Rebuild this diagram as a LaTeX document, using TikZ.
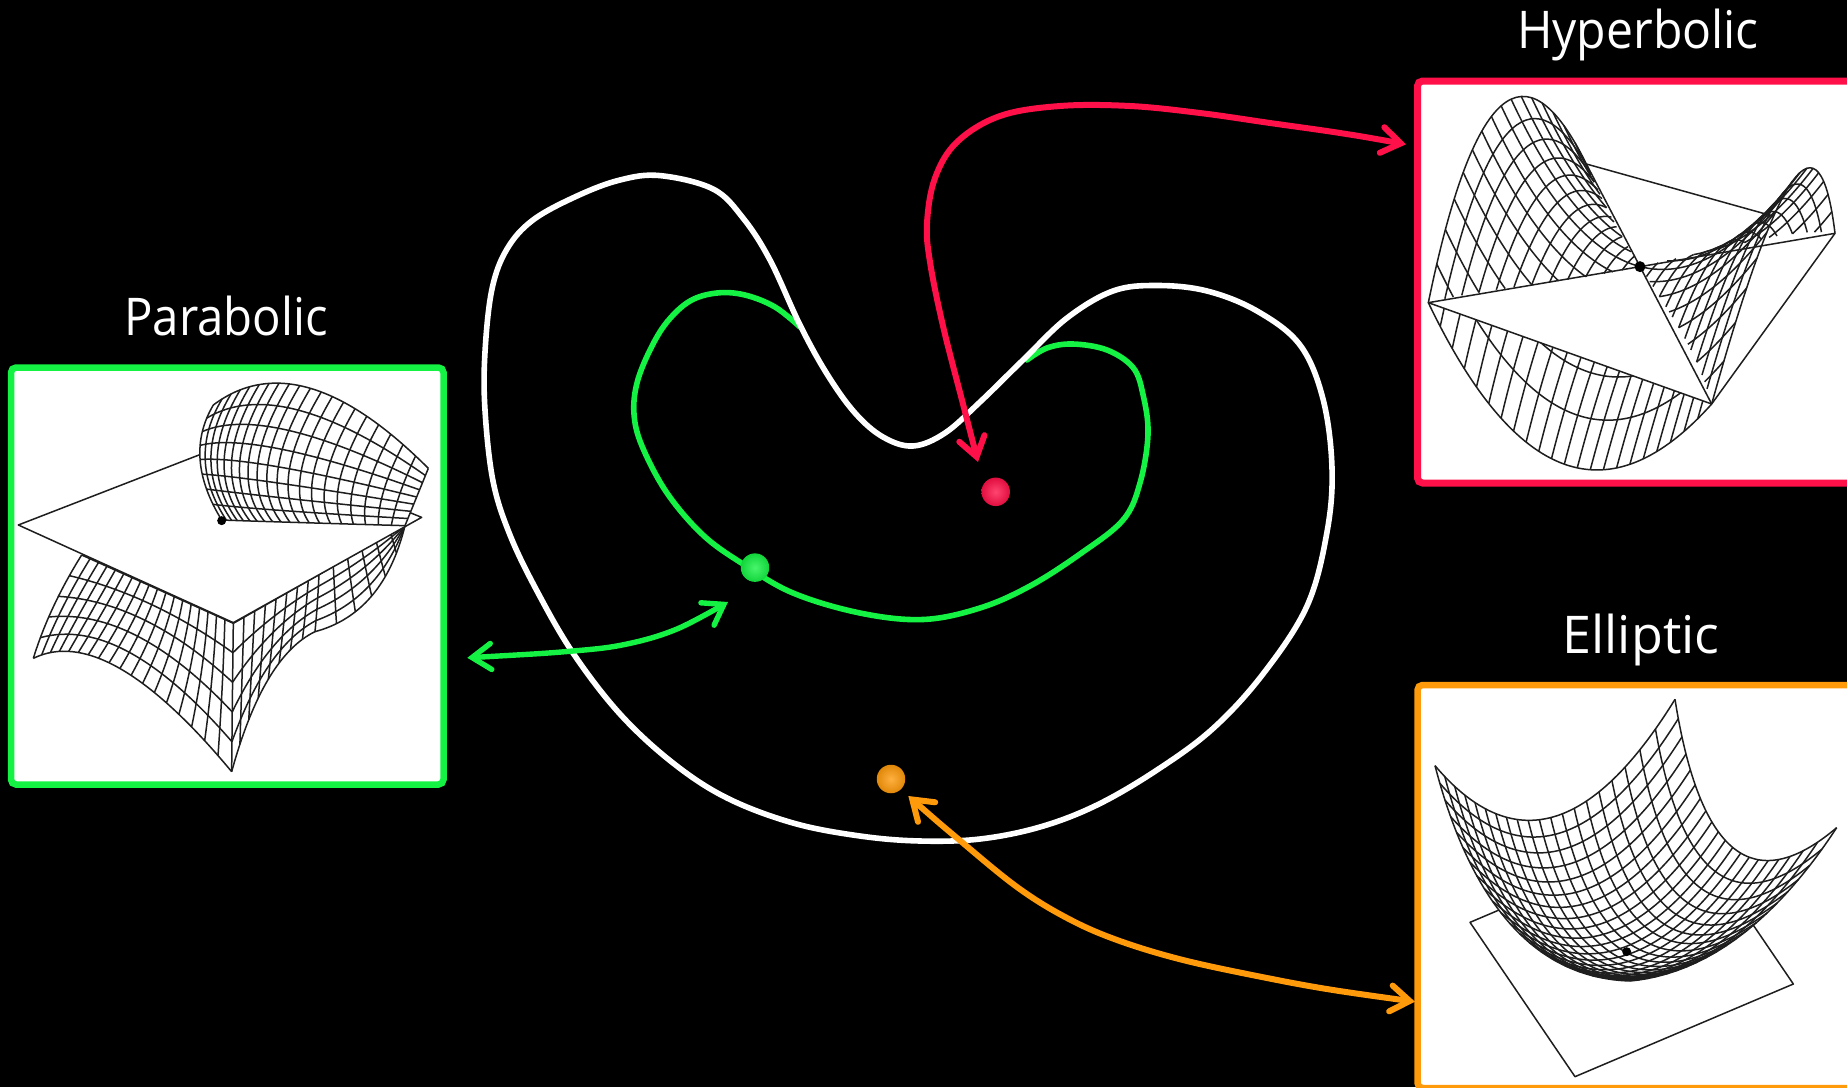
\documentclass[tikz,border=0pt]{standalone}
\usepackage{fontspec}
\setmainfont{Open Sans}
\newfontfamily\titleA[FakeStretch=0.91]{Open Sans}
\newfontfamily\titleB[FakeStretch=0.925]{Open Sans}
\usetikzlibrary{arrows.meta,calc}
\definecolor{cgreen}{HTML}{14F243}
\definecolor{cred}{HTML}{FF1048}
\definecolor{corange}{HTML}{FF9A0A}
\definecolor{cmesh}{HTML}{1E1E1E}
\tikzset{
 meshline/.style={draw=cmesh,line width=1.5pt},
 planeline/.style={draw=cmesh,line width=1.5pt,line join=round},
 framebox/.style={rectangle,fill=white,line width=6.5pt,rounded corners=5pt,inner sep=0pt,outer sep=0pt},
 curveline/.style={line width=5.6pt,line cap=round},
 linkarrow/.style={line width=#1,line cap=round,
   {Straight Barb[length=19pt,width=26pt,line width=#1,line cap=round,line join=miter]}-{Straight Barb[length=19pt,width=26pt,line width=#1,line cap=round,line join=miter]}},
 titlelabel/.style={text=white,anchor=base,inner sep=0pt},
 meshdot/.style={circle,fill=black,inner sep=0pt,minimum size=6.5pt},
 ballnode/.style={circle,inner sep=0pt,minimum size=28.5pt,inner color=#1!78!white,outer color=#1!88!black},
}
\def\setrow#1(#2,#3)(#4,#5)(#6,#7){%
 \expandafter\def\csname x#1a\endcsname{#2}\expandafter\def\csname y#1a\endcsname{#3}%
 \expandafter\def\csname x#1b\endcsname{#4}\expandafter\def\csname y#1b\endcsname{#5}%
 \expandafter\def\csname x#1c\endcsname{#6}\expandafter\def\csname y#1c\endcsname{#7}}
\newcommand\qb[5]{\pgfmathsetmacro#1{(1-(#5))*(1-(#5))*(#2)+2*(#5)*(1-(#5))*(#3)+(#5)*(#5)*(#4)}}
\newcommand\quadpiece[2]{%
 \qb\qax\pAx\pBx\pCx{#1}\qb\qay\pAy\pBy\pCy{#1}%
 \qb\qcx\pAx\pBx\pCx{#2}\qb\qcy\pAy\pBy\pCy{#2}%
 \pgfmathsetmacro\qbx{(1-(#1))*(1-(#2))*\pAx+((1-(#1))*(#2)+(#1)*(1-(#2)))*\pBx+(#1)*(#2)*\pCx}%
 \pgfmathsetmacro\qby{(1-(#1))*(1-(#2))*\pAy+((1-(#1))*(#2)+(#1)*(1-(#2)))*\pBy+(#1)*(#2)*\pCy}%
 \pgfmathsetmacro\cax{\qax+0.6667*(\qbx-\qax)}\pgfmathsetmacro\cay{\qay+0.6667*(\qby-\qay)}%
 \pgfmathsetmacro\ccx{\qcx+0.6667*(\qbx-\qcx)}\pgfmathsetmacro\ccy{\qcy+0.6667*(\qby-\qcy)}%
 \draw[meshline] (\qax,\qay) .. controls (\cax,\cay) and (\ccx,\ccy) .. (\qcx,\qcy);}
\newcommand\isoU[3]{% s fixed, t from #2 to #3
 \qb\pAx\xaa\xab\xac{#1}\qb\pAy\yaa\yab\yac{#1}%
 \qb\pBx\xba\xbb\xbc{#1}\qb\pBy\yba\ybb\ybc{#1}%
 \qb\pCx\xca\xcb\xcc{#1}\qb\pCy\yca\ycb\ycc{#1}%
 \quadpiece{#2}{#3}}
\newcommand\isoV[3]{% t fixed, s from #2 to #3
 \qb\pAx\xaa\xba\xca{#1}\qb\pAy\yaa\yba\yca{#1}%
 \qb\pBx\xab\xbb\xcb{#1}\qb\pBy\yab\ybb\ycb{#1}%
 \qb\pCx\xac\xbc\xcc{#1}\qb\pCy\yac\ybc\ycc{#1}%
 \quadpiece{#2}{#3}}
\begin{document}
\begin{tikzpicture}[x=1pt,y=-1pt]
\useasboundingbox (0,0) rectangle (1847,1087);
\clip (0,0) rectangle (1847,1087);
\fill[black] (0,0) rectangle (1847,1087);

% ---------- frames and titles
\node[framebox,draw=cgreen,minimum width=432.5pt,minimum height=417pt] (parabox) at (227.25,576) {};
\node[framebox,draw=cred,line width=7pt,minimum width=482pt,minimum height=402pt] (hypbox) at (1658.5,282) {};
\node[framebox,draw=corange,minimum width=482pt,minimum height=403pt] (ellbox) at (1658.5,886.5) {};
\node[titlelabel,font=\titleA\fontsize{52}{60}\selectfont] (paratitle) at (226,335) {Parabolic};
\node[titlelabel,font=\titleB\fontsize{52}{60}\selectfont] (hyptitle) at (1638,48) {Hyperbolic};
\node[titlelabel,font=\fontsize{52}{60}\selectfont] (elltitle) at (1641,653) {Elliptic};

% ---------- parabolic surface (zoom coordinates)
\begin{scope}[shift={(0,280)},x=0.33333pt,y=-0.33333pt]
 % lower left part
 \setrow a(100,1135)(322,1026)(695,1475)
 \setrow b(148,980)(444,972)(697,1250)
 \setrow c(245,825)(472,927)(700,1030)
 \foreach \i in {0,...,18}{\pgfmathsetmacro\s{\i/18}\isoU{\s}{0}{1}}
 \foreach \j in {0,...,5}{\pgfmathsetmacro\t{\j/5}\isoV{\t}{0}{1}}
 % lower right part, near the seam
 \setrow a(700,1030)(828,957)(957,884)
 \setrow b(697,1250)(810,1060)(953,972)
 \setrow c(695,1475)(790,1130)(945,1055)
 \foreach \i in {1,...,8}{\pgfmathsetmacro\s{\i/8}\isoU{\s}{0}{1}}
 \foreach \j in {0,...,5}{\pgfmathsetmacro\t{\j/5}\isoV{\t}{0}{1}}
 % lower right part, towards the far corner
 \setrow a(957,884)(1086,810)(1215,737)
 \setrow b(953,972)(1110,880)(1215,737)
 \setrow c(945,1055)(1150,1000)(1215,737)
 \foreach \i in {1,...,5}{\pgfmathsetmacro\s{\i/6}\isoU{\s}{0}{1}}
 \foreach \j in {0,...,5}{\pgfmathsetmacro\t{\j/5}\isoV{\t}{0}{1}}
 % plane
 \coordinate (pL) at (55,735); \coordinate (pF) at (700,1028);
 \coordinate (pR) at (1265,712); \coordinate (pB) at (700,485);
 \fill[white] (pL) -- (pF) -- (pR) -- (pB) -- cycle;
 \draw[planeline] (pL) -- (pF) -- (pR) -- (pB) -- cycle;
 % upper part
 \coordinate (uA) at (640,375); \coordinate (uD) at (1285,565);
 \coordinate (uR) at (1215,737); \coordinate (uC) at (665,720);
 \coordinate (uT) at (900,180); \coordinate (uS) at (548,530);
 \fill[white] (uA) .. controls ($(uA)!.667!(uT)$) and ($(uD)!.667!(uT)$) .. (uD) -- (uR) -- (uC)
   .. controls ($(uC)!.667!(uS)$) and ($(uA)!.667!(uS)$) .. (uA) -- cycle;
 \setrow a(640,375)(900,180)(1285,565)
 \setrow b(548,530)(640,600)(1250,651)
 \setrow c(665,720)(800,725)(1215,737)
 \foreach \i in {0,...,20}{\pgfmathsetmacro\s{\i/20}\isoU{\s}{0}{1}}
 \foreach \j in {0,...,8}{\pgfmathsetmacro\t{\j/8}\isoV{\t}{0}{1}}
 \node[meshdot,minimum size=9pt] (paradot) at (665,722) {};
\end{scope}

% ---------- hyperbolic surface
\begin{scope}[shift={(1400,0)},x=0.33333pt,y=-0.33333pt]
 \setrow a(85,908)(476,1725)(935,1212)
 \setrow b(285,-65)(712,876)(1236,130)
 \setrow c(559,492)(900,1200)(1305,700)
 \foreach \j in {0,...,5}{\pgfmathsetmacro\t{\j/12}\pgfmathsetmacro\tb{1-\t}\isoV{\t}{\t}{\tb}}
 \foreach \i in {1,...,21}{\pgfmathsetmacro\s{\i/22}\pgfmathsetmacro\te{min(\s,1-\s)}\isoU{\s}{0}{\te}}
 \coordinate (hL) at (85,908); \coordinate (hF) at (935,1212);
 \coordinate (hR) at (1305,700); \coordinate (hB) at (559,492);
 \coordinate (hC) at (720,800);
 \coordinate (hEL) at (285,-65); \coordinate (hER) at (1236,130);
 \fill[white] (hL) -- (hF) -- (hR) -- (hB) -- cycle;
 \draw[planeline] (hL) -- (hF) -- (hR) -- (hB) -- cycle;
 \fill[white] (hL) .. controls ($(hL)!.667!(hEL)$) and ($(hB)!.667!(hEL)$) .. (hB) -- (hC) -- cycle;
 \foreach \i in {0,...,11}{\pgfmathsetmacro\s{\i/24}\pgfmathsetmacro\tb{1-\s}\isoU{\s}{\s}{\tb}}
 \foreach \j in {1,...,15}{\pgfmathsetmacro\t{\j/16}\pgfmathsetmacro\se{min(\t,1-\t)}\isoV{\t}{0}{\se}}
 \fill[white] (hF) .. controls ($(hF)!.667!(hER)$) and ($(hR)!.667!(hER)$) .. (hR) -- (hC) -- cycle;
 \foreach \i in {13,...,24}{\pgfmathsetmacro\s{\i/24}\pgfmathsetmacro\tb{1-\s}\isoU{\s}{\tb}{\s}}
 \foreach \j in {1,...,15}{\pgfmathsetmacro\t{\j/16}\pgfmathsetmacro\se{max(\t,1-\t)}\isoV{\t}{\se}{1}}
 \draw[planeline] (hL) -- (hC) -- (hR) (hF) -- (hC) -- (hB);
 \node[meshdot,minimum size=11pt] (hypdot) at (720,800) {};
\end{scope}

% ---------- elliptic surface
\begin{scope}[shift={(1400,600)},x=0.33333pt,y=-0.33333pt]
 \coordinate (ea) at (210,967); \coordinate (eb) at (525,1430);
 \coordinate (ec) at (1180,1152); \coordinate (ed) at (865,689);
 \draw[planeline] (ea) -- (eb) -- (ec) -- (ed) -- cycle;
 \coordinate (eL) at (105,497); \coordinate (eT) at (825,298);
 \coordinate (eR) at (1310,683); \coordinate (eK) at (690,1143);
 \coordinate (e1) at (450,905); \coordinate (e2) at (936,1000);
 \coordinate (e3) at (1030,1110); \coordinate (e4) at (270,1130);
 \fill[white] (eL) .. controls ($(eL)!.667!(e1)$) and ($(eT)!.667!(e1)$) .. (eT)
   .. controls ($(eT)!.667!(e2)$) and ($(eR)!.667!(e2)$) .. (eR)
   .. controls ($(eR)!.667!(e3)$) and ($(eK)!.667!(e3)$) .. (eK)
   .. controls ($(eK)!.667!(e4)$) and ($(eL)!.667!(e4)$) .. (eL) -- cycle;
 \setrow a(105,497)(450,905)(825,298)
 \setrow b(270,1130)(600,1460)(936,1000)
 \setrow c(690,1143)(1030,1110)(1310,683)
 \foreach \i in {0,...,20}{\pgfmathsetmacro\s{1-(1-\i/20)^0.85}\isoU{\s}{0}{1}}
 \foreach \j in {0,...,20}{\pgfmathsetmacro\t{1-(1-\j/20)^0.85}\isoV{\t}{0}{1}}
 \node[meshdot,minimum size=9pt] (elldot) at (680,1055) {};
\end{scope}

% ---------- central curves
\draw[cgreen,curveline] plot[smooth,tension=0.6] coordinates {
  (800,327)(775,307)(745,295)(717,293)(690,301)(667,322)(650,350)(637,383)(634,414)(642,446)
  (667,493)(703,535)(743,564)(793,593)(860,613)(923,619.5)(980,608)(1030,586)(1080,554)
  (1123,520)(1140,483)(1148,434)(1143,394.5)(1133,367.5)(1107,350)(1073,344)(1047,348)(1027,360)};
\draw[white,curveline] plot[smooth cycle,tension=0.6] coordinates {
  (660,175.6)(713,189)(743,218)(770,260)(800,325)(827,374)(855,413)(883,437)(913,446)(945,433)
  (980,402)(1023,360)(1067,318)(1113,291)(1157,285.5)(1207,291)(1257,311)(1300,345)(1323,399)
  (1332,468)(1327,532)(1307,606)(1263,674)(1213,728.5)(1157,770)(1097,805)(1040,827)(980,839)
  (920,841)(860,836)(793,823)(727,798)(673,763)(620,714)(573,653)(537,591)(510,535)(493,481)
  (485,410)(485,352)(492,289)(507,249)(533,220)(577,196)(620,180)};
\node[ballnode=cgreen] (greenball) at (755,567.6) {};
\node[ballnode=cred] (redball) at (995.7,491.8) {};
\node[ballnode=corange] (orangeball) at (891,779) {};
\coordinate (g1) at (467.3,657.8); \coordinate (g2) at (728,602);
\coordinate (r1) at (1406,144.3); \coordinate (r2) at (978,462);
\coordinate (o1) at (908.3,796); \coordinate (o2) at (1415,1001.7);
\draw[cgreen,linkarrow=5.4pt] plot[smooth,tension=0.6] coordinates {
  (g1)(573,651)(627,644)(677,629)(g2)};
\draw[cred,linkarrow=6pt] plot[smooth,tension=0.6] coordinates {
  (r1)(1340,133)(1270,123)(1200,113)(1130,106)(1060,106)(1000,116)(957,142)(935,178)(927,223)(930,262)(943,326)(963,404)(r2)};
\draw[corange,linkarrow=6pt] plot[smooth,tension=0.6] coordinates {
  (o1)(957,838)(1017,887)(1067,918)(1117,940)(1183,960)(1267,978)(1333,990)(o2)};
\end{tikzpicture}
\end{document}
